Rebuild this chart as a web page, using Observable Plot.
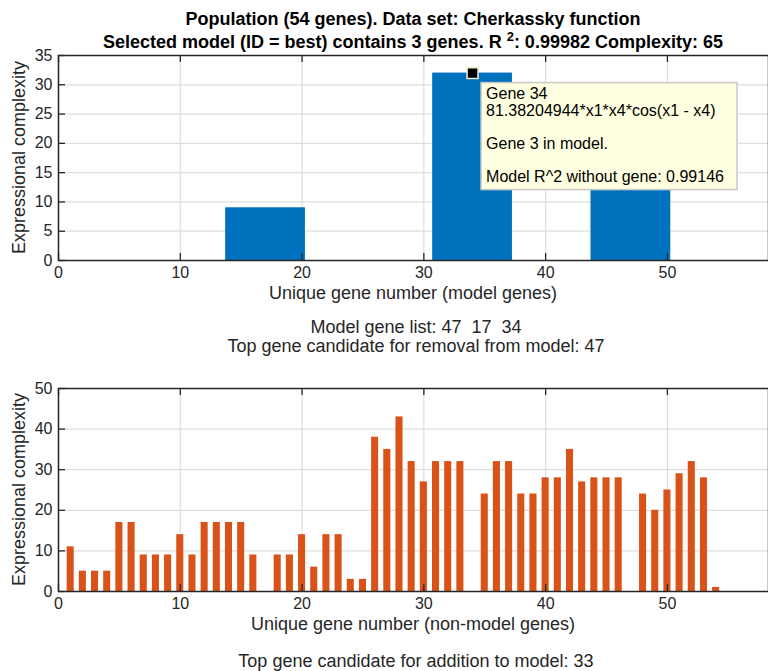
<!DOCTYPE html>
<html><head><meta charset="utf-8">
<script src="https://cdn.jsdelivr.net/npm/d3@7"></script>
<script src="https://cdn.jsdelivr.net/npm/@observablehq/plot@0.6"></script>
<style>
html,body{margin:0;padding:0;background:#fff;}
#wrap{position:relative;width:768px;height:671px;overflow:hidden;background:#fff;}
#wrap svg{position:absolute;left:0;}
#wrap text.pre{white-space:pre;}
</style></head><body><div id="wrap"></div>
<script>
// ---- data ----
const modelGenes = [47, 17, 34];
const modelComplexity = [24, 9, 32];
const nonModelGenes = [1,2,3,4,5,6,7,8,9,10,11,12,13,14,15,16,18,19,20,21,22,23,24,25,26,27,28,29,30,31,32,33,35,36,37,38,39,40,41,42,43,44,45,46,48,49,50,51,52,53,54];
const nonModelComplexity = [11,5,5,5,17,17,9,9,9,14,9,17,17,17,17,9,9,9,14,6,14,14,3,3,38,35,43,32,27,32,32,32,24,32,32,24,24,28,28,35,27,28,28,28,24,20,25,29,32,28,1];
const xTicks = [0,10,20,30,40,50];
const topYTicks = [0,5,10,15,20,25,30,35];
const bottomYTicks = [0,10,20,30,40,50];
const titleLine1 = "Population (54 genes). Data set: Cherkassky function";
const titleLine2a = "Selected model (ID = best) contains 3 genes. R ";
const titleLine2sup = "2";
const titleLine2b = ": 0.99982 Complexity: 65";
const yLabel = "Expressional complexity";
const xLabelTop = "Unique gene number (model genes)";
const xLabelBottom = "Unique gene number (non-model genes)";
const midText1 = "Model gene list: 47  17  34";
const midText2 = "Top gene candidate for removal from model: 47";
const bottomText = "Top gene candidate for addition to model: 33";
const tipGene = 34;
const tipLines = ["Gene 34", "81.38204944*x1*x4*cos(x1 - x4)", "", "Gene 3 in model.", "", "Model R^2 without gene: 0.99146"];

const FONT = "'Liberation Sans', Arial, Helvetica, sans-serif";
const DARK = "#262626";
const GRID = "#dedede";
const xDomain = [0, 58.3];

const topData = modelGenes.map((g, i) => ({gene: g, value: modelComplexity[i]}));
const bottomData = nonModelGenes.map((g, i) => ({gene: g, value: nonModelComplexity[i]}));

function chart({data, color, barWidth, yDomain, yTicks, height, marginTop, marginBottom, extra = []}) {
  const marginLeft = 58, marginRight = 0, width = 768;
  const fw = width - marginLeft - marginRight;
  const fh = height - marginTop - marginBottom;
  const tick = 7;
  return Plot.plot({
    width, height, marginLeft, marginRight, marginTop, marginBottom,
    style: {fontFamily: FONT, fontSize: "16px", color: DARK, background: "transparent", overflow: "visible"},
    x: {domain: xDomain},
    y: {domain: yDomain},
    marks: [
      Plot.gridX(xTicks, {stroke: GRID, strokeOpacity: 1, strokeWidth: 1.2}),
      Plot.gridY(yTicks, {stroke: GRID, strokeOpacity: 1, strokeWidth: 1.2}),
      Plot.rect(data, {x1: d => d.gene - barWidth / 2, x2: d => d.gene + barWidth / 2, y1: 0, y2: "value", fill: color}),
      Plot.ruleX(xTicks, {x: d => d, insetTop: fh - tick, stroke: DARK, strokeWidth: 1.3}),
      Plot.ruleX(xTicks, {x: d => d, insetBottom: fh - tick, stroke: DARK, strokeWidth: 1.3}),
      Plot.ruleY(yTicks, {y: d => d, insetRight: fw - tick, stroke: DARK, strokeWidth: 1.3}),
      Plot.frame({stroke: DARK, strokeWidth: 1.5}),
      Plot.axisX(xTicks, {tickSize: 0, tickPadding: 6, fontSize: 16, fill: DARK, label: null}),
      Plot.axisY(yTicks, {tickSize: 0, tickPadding: 6, fontSize: 16, fill: DARK, label: null}),
      ...extra
    ]
  });
}

const wrap = document.getElementById("wrap");

const TOP_Y = 0;
const topChart = chart({
  data: topData, color: "#0072BD", barWidth: 6.55,
  yDomain: [0, 35], yTicks: topYTicks, height: 310, marginTop: 55, marginBottom: 50,
  extra: [Plot.dot(topData.filter(d => d.gene === tipGene), {x: "gene", y: "value", symbol: "square", r: 6.2, fill: "black", stroke: "#ecebc8", strokeWidth: 1.6})]
});
topChart.style.top = TOP_Y + "px";
wrap.appendChild(topChart);

const BOT_Y = 340;
const bottomChart = chart({
  data: bottomData, color: "#D95319", barWidth: 0.58,
  yDomain: [0, 50], yTicks: bottomYTicks, height: 280, marginTop: 48, marginBottom: 29
});
bottomChart.style.top = BOT_Y + "px";
wrap.appendChild(bottomChart);

// ---- overlay texts ----
const ov = d3.select(wrap).append("svg")
  .attr("width", 768).attr("height", 671)
  .style("top", "0px").style("font-family", FONT).style("fill", DARK);

function txt(x, y, s, size, opts = {}) {
  const t = ov.append("text").attr("class", "pre").attr("xml:space", "preserve")
    .attr("x", x).attr("y", y).attr("text-anchor", opts.anchor || "middle")
    .style("font-size", size + "px");
  if (opts.bold) t.style("font-weight", "bold");
  if (opts.fill) t.style("fill", opts.fill);
  if (s != null) t.text(s);
  return t;
}

const cx = 413;
txt(cx, 25, titleLine1, 18, {bold: true, fill: "#000"});
const t2 = txt(cx, 48, null, 18, {bold: true, fill: "#000"});
t2.append("tspan").text(titleLine2a);
t2.append("tspan").attr("dy", -7).style("font-size", "13px").text(titleLine2sup);
t2.append("tspan").attr("dy", 7).text(titleLine2b);

function ylab(cy) {
  ov.append("text").attr("transform", `translate(25,${cy}) rotate(-90)`).attr("text-anchor", "middle")
    .style("font-size", "18px").text(yLabel);
}
ylab(157.5);
ylab(489.5);

txt(cx, 299, xLabelTop, 18);
txt(cx, 630, xLabelBottom, 18);
txt(cx + 3, 333, midText1, 18);
txt(cx + 3, 352, midText2, 18);
txt(cx + 3, 667, bottomText, 18);

// ---- data tip ----
const sx = topChart.scale("x"), sy = topChart.scale("y");
const tipD = topData.find(d => d.gene === tipGene);
const px = sx.apply(tipD.gene), py = sy.apply(tipD.value) + TOP_Y;
const bx = px + 9, by = py + 10;
ov.append("rect").attr("x", bx).attr("y", by).attr("width", 256).attr("height", 107)
  .attr("fill", "#ffffe1").attr("stroke", "#c8c8c8").attr("stroke-width", 1.5);
tipLines.forEach((s, i) => {
  if (!s) return;
  txt(bx + 5, by + 16.5 + i * 16.6, s, 16, {anchor: "start", fill: "#000"});
});
</script></body></html>
